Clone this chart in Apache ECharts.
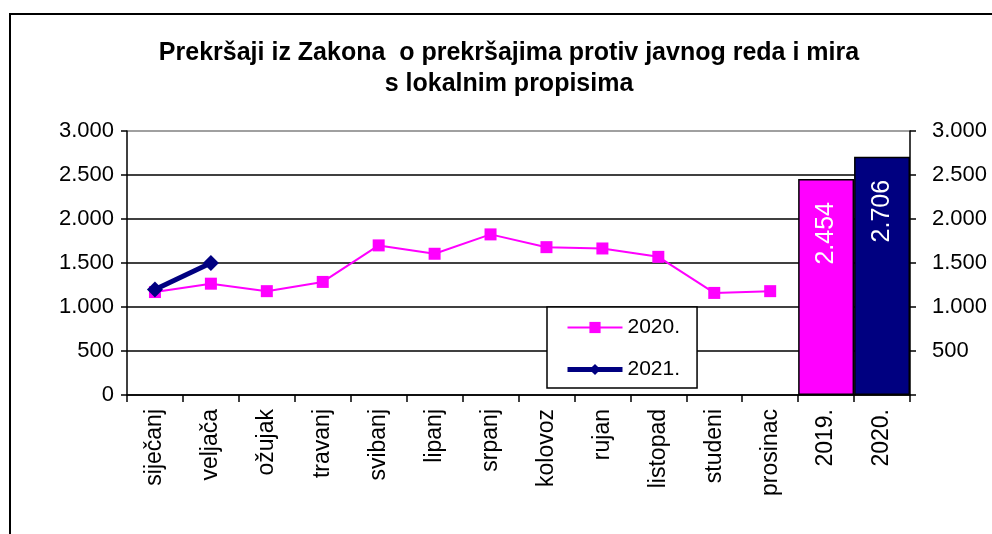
<!DOCTYPE html>
<html>
<head>
<meta charset="utf-8">
<script src="https://cdn.jsdelivr.net/npm/echarts@6/dist/echarts.min.js"></script>
<style>
html, body { margin: 0; padding: 0; background: #fff; }
#chart { width: 992px; height: 534px; }
</style>
</head>
<body>
<div id="chart"></div>
<script>
"use strict"

var categories = ['siječanj', 'veljača', 'ožujak', 'travanj', 'svibanj', 'lipanj', 'srpanj',
    'kolovoz', 'rujan', 'listopad', 'studeni', 'prosinac', '2019.', '2020.'];
var months2020 = [1170, 1265, 1180, 1285, 1700, 1605, 1825, 1680, 1665, 1570, 1160, 1180];
var months2021 = [1200, 1500];
var yearTotals = [2454, 2706];          // 2019., 2020.
var yearColors = ['#FF00FF', '#000080'];
var yTicks = [0, 500, 1000, 1500, 2000, 2500, 3000];

function fmt(v){
    // 2454 -> 2.454
    return String(v).replace(/\B(?=(\d{3})+(?!\d))/g, '.');
}

function padTo(list, len){
    var out = list.slice();
    while(out.length < len){ out.push(null); }
    return out;
}

var barData = [];
for(let i = 0; i < categories.length; i++){
    let j = i - (categories.length - yearTotals.length);
    if(j < 0){
        barData.push(null);
    } else {
        barData.push({ value: yearTotals[j], itemStyle: { color: yearColors[j] } });
    }
}

var font = 'Liberation Sans, Arial, sans-serif';
var chart = echarts.init(document.getElementById('chart'));
var option = {
    animation: false,
    backgroundColor: '#fff',
    title: {
        text: 'Prekršaji iz Zakona  o prekršajima protiv javnog reda i mira\ns lokalnim propisima',
        left: 504,
        textAlign: 'center',
        top: 33,
        textStyle: { fontFamily: font, fontSize: 25, fontWeight: 'bold', color: '#000', lineHeight: 31 }
    },
    graphic: [{
        type: 'rect',
        shape: { x: 10, y: 14, width: 1000, height: 540 },
        style: { fill: 'none', stroke: '#000', lineWidth: 2 },
        silent: true
    }],
    legend: {
        data: [
            { name: '2020.', lineStyle: { width: 2 } },
            { name: '2021.', lineStyle: { width: 5 } }
        ],
        orient: 'vertical',
        left: 547,
        top: 307,
        padding: [10, 17, 8, 18],
        itemWidth: 55,
        itemHeight: 14,
        itemGap: 21,
        backgroundColor: '#fff',
        borderColor: '#000',
        borderWidth: 1.5,
        textStyle: { fontFamily: font, fontSize: 21, color: '#000' }
    },
    grid: { left: 127, right: 82, top: 131, bottom: 139 },
    xAxis: {
        type: 'category',
        data: categories,
        boundaryGap: true,
        axisLine: { lineStyle: { color: '#000', width: 1.5 } },
        axisTick: { show: true, length: 7, interval: 0, lineStyle: { color: '#000', width: 1.5 } },
        axisLabel: {
            interval: 0, rotate: 90, margin: 14,
            fontFamily: font, fontSize: 23, color: '#000'
        }
    },
    yAxis: [
        {
            type: 'value', min: 0, max: 3000, interval: 500, position: 'left',
            axisLine: { show: true, lineStyle: { color: '#000', width: 1.5 } },
            axisTick: { show: true, length: 6, lineStyle: { color: '#000', width: 1.5 } },
            axisLabel: { margin: 13, fontFamily: font, fontSize: 22, color: '#000', formatter: fmt },
            splitLine: { show: true, lineStyle: { color: ['#000', '#000', '#000', '#000', '#000', '#000', '#808080'], width: 1.5 } }
        },
        {
            type: 'value', min: 0, max: 3000, interval: 500, position: 'right',
            axisLine: { show: true, lineStyle: { color: '#000', width: 1.5 } },
            axisTick: { show: true, length: 6, lineStyle: { color: '#000', width: 1.5 } },
            axisLabel: {
                margin: 22, fontFamily: font, fontSize: 22, color: '#000',
                formatter: function(v){ return v === yTicks[0] ? '' : fmt(v); }
            },
            splitLine: { show: false }
        }
    ],
    series: [
        {
            name: 'godine',
            type: 'bar',
            yAxisIndex: 1,
            barWidth: '100%',
            data: barData,
            itemStyle: { borderColor: '#000', borderWidth: 1.5 },
            label: {
                show: true,
                position: 'insideTop',
                distance: 23,
                rotate: 90,
                align: 'right',
                verticalAlign: 'middle',
                fontFamily: font, fontSize: 25, color: '#fff',
                formatter: function(p){ return fmt(p.value); }
            },
            z: 1
        },
        {
            name: '2020.',
            type: 'line',
            data: padTo(months2020, categories.length),
            color: '#FF00FF',
            lineStyle: { color: '#FF00FF', width: 2 },
            symbol: 'rect',
            symbolSize: 12,
            itemStyle: { color: '#FF00FF' },
            z: 3
        },
        {
            name: '2021.',
            type: 'line',
            data: padTo(months2021, categories.length),
            color: '#000080',
            lineStyle: { color: '#000080', width: 5 },
            symbol: 'diamond',
            symbolSize: 16,
            itemStyle: { color: '#000080' },
            z: 4
        }
    ]
};
chart.setOption(option);
</script>
</body>
</html>
